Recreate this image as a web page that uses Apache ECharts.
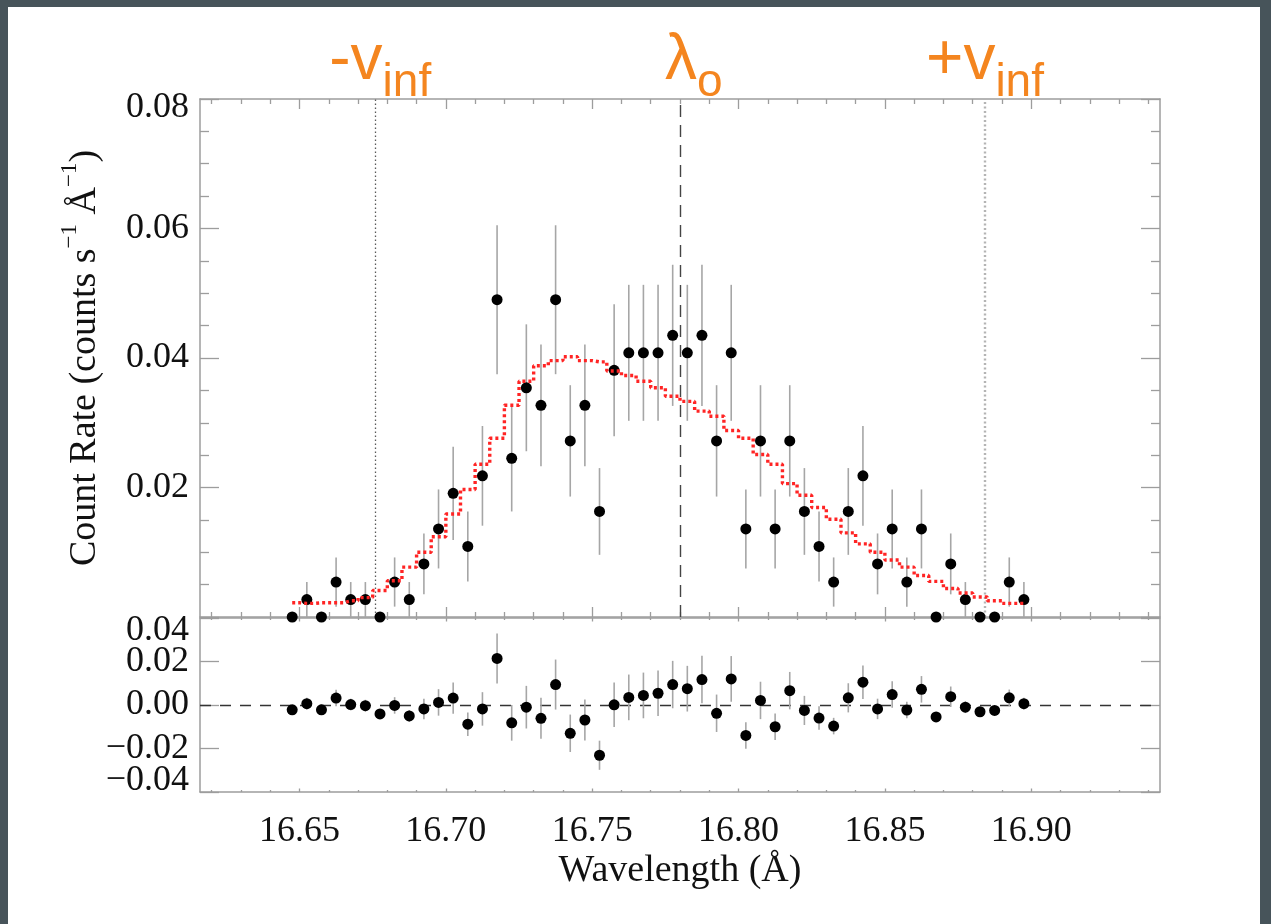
<!DOCTYPE html>
<html>
<head>
<meta charset="utf-8">
<title>Fe XVII 16.78 Å line profile</title>
<script src="https://cdn.jsdelivr.net/npm/echarts@6.0.0/dist/echarts.min.js"></script>
<style>
  html, body { margin: 0; padding: 0; background: #fff; }
  #frame {
    position: absolute; left: 0; top: 0; width: 1271px; height: 924px;
    box-sizing: border-box; background: #fff;
    border-top: 7px solid #47545a; border-left: 8px solid #47545a; border-right: 11px solid #47545a;
  }
  #chart { width: 1252px; height: 917px; }
</style>
</head>
<body>
<div id="frame"><div id="chart"></div></div>
<script>
// Bin centres (Å)
const wavelength = [
  16.6475, 16.6525, 16.6575, 16.6625, 16.6675, 16.6725, 16.6775, 16.6825, 16.6875, 16.6925,
  16.6975, 16.7025, 16.7075, 16.7125, 16.7175, 16.7225, 16.7275, 16.7325, 16.7375, 16.7425,
  16.7475, 16.7525, 16.7575, 16.7625, 16.7675, 16.7725, 16.7775, 16.7825, 16.7875, 16.7925,
  16.7975, 16.8025, 16.8075, 16.8125, 16.8175, 16.8225, 16.8275, 16.8325, 16.8375, 16.8425,
  16.8475, 16.8525, 16.8575, 16.8625, 16.8675, 16.8725, 16.8775, 16.8825, 16.8875, 16.8925, 16.8975
];
// Observed count rate (counts s^-1 Å^-1)
const countRate = [
  0.0000, 0.0027, 0.0000, 0.0054, 0.0027, 0.0027, 0.0000, 0.0054, 0.0027, 0.0082,
  0.0136, 0.0191, 0.0109, 0.0218, 0.0490, 0.0245, 0.0354, 0.0327, 0.0490, 0.0272,
  0.0327, 0.0163, 0.0381, 0.0408, 0.0408, 0.0408, 0.0435, 0.0408, 0.0435, 0.0272,
  0.0408, 0.0136, 0.0272, 0.0136, 0.0272, 0.0163, 0.0109, 0.0054, 0.0163, 0.0218,
  0.0082, 0.0136, 0.0054, 0.0136, 0.0000, 0.0082, 0.0027, 0.0000, 0.0000, 0.0054, 0.0027
];
// 1-sigma uncertainty of each bin
const rateError = [
  0.0000, 0.0027, 0.0000, 0.0038, 0.0027, 0.0027, 0.0000, 0.0038, 0.0027, 0.0047,
  0.0061, 0.0072, 0.0054, 0.0077, 0.0115, 0.0082, 0.0098, 0.0094, 0.0115, 0.0086,
  0.0094, 0.0067, 0.0102, 0.0105, 0.0105, 0.0105, 0.0109, 0.0105, 0.0109, 0.0086,
  0.0105, 0.0061, 0.0086, 0.0061, 0.0086, 0.0067, 0.0054, 0.0038, 0.0067, 0.0077,
  0.0047, 0.0061, 0.0038, 0.0061, 0.0000, 0.0047, 0.0027, 0.0000, 0.0000, 0.0038, 0.0027
];
// Best-fit wind profile model
const modelRate = [
  0.0022, 0.0021, 0.0022, 0.0022, 0.0025, 0.0030, 0.0041, 0.0056, 0.0077, 0.0100,
  0.0124, 0.0159, 0.0197, 0.0236, 0.0276, 0.0327, 0.0364, 0.0388, 0.0396, 0.0402,
  0.0396, 0.0394, 0.0380, 0.0373, 0.0364, 0.0354, 0.0341, 0.0333, 0.0318, 0.0310,
  0.0288, 0.0276, 0.0251, 0.0236, 0.0206, 0.0188, 0.0169, 0.0151, 0.0130, 0.0113,
  0.0100, 0.0088, 0.0077, 0.0064, 0.0055, 0.0044, 0.0037, 0.0031, 0.0025, 0.0021, 0.0021
];
// Data minus model
const residual = [
  -0.0022, 0.0006, -0.0022, 0.0032, 0.0002, -0.0003, -0.0041, -0.0002, -0.0050, -0.0018,
  0.0012, 0.0032, -0.0088, -0.0018, 0.0214, -0.0082, -0.0010, -0.0061, 0.0094, -0.0130,
  -0.0069, -0.0231, 0.0001, 0.0035, 0.0044, 0.0054, 0.0094, 0.0075, 0.0117, -0.0038,
  0.0120, -0.0140, 0.0021, -0.0100, 0.0066, -0.0025, -0.0060, -0.0097, 0.0033, 0.0105,
  -0.0018, 0.0048, -0.0023, 0.0072, -0.0055, 0.0038, -0.0010, -0.0031, -0.0025, 0.0033, 0.0006
];

// Rest wavelength and terminal-velocity edges (Å)
const restWavelength = 16.78;
const blueEdge = 16.676;
const redEdge = 16.884;

// Axis ranges and ticks
const wlRange = [16.616, 16.944];
const wlMajorTicks = [16.65, 16.70, 16.75, 16.80, 16.85, 16.90];
const wlMinorTicks = [16.62, 16.63, 16.64, 16.66, 16.67, 16.68, 16.69, 16.71, 16.72, 16.73, 16.74,
  16.76, 16.77, 16.78, 16.79, 16.81, 16.82, 16.83, 16.84, 16.86, 16.87, 16.88, 16.89,
  16.91, 16.92, 16.93, 16.94];
const rateRange = [0, 0.08];
const rateLabels = [0.02, 0.04, 0.06, 0.08];
const residRange = [-0.04, 0.04];
const residInnerLabels = [-0.02, 0, 0.02];
const residEdgeLabels = [-0.04, 0.04];

// Annotation text over the three reference lines: [wavelength, main text, subscript]
const edgeLabels = [
  [blueEdge, '-v', 'inf'],
  [restWavelength, 'λ', 'o'],
  [redEdge, '+v', 'inf']
];

const serif = 'Liberation Serif, Times New Roman, serif';
const sans = 'Liberation Sans, Arial, sans-serif';
const frameGray = '#9d9d9d';
const orange = '#f4851f';

function xAxisDef(gridIndex, position, ticks, len, withLine, extra) {
  const ax = {
    type: 'value', gridIndex: gridIndex, position: position,
    min: wlRange[0], max: wlRange[1],
    axisLine: { show: withLine, onZero: false, lineStyle: { color: frameGray, width: 1.5 } },
    axisTick: { show: true, inside: true, length: len, customValues: ticks,
                lineStyle: { color: frameGray, width: 1.3 } },
    axisLabel: { show: false },
    splitLine: { show: false }
  };
  return Object.assign(ax, extra || {});
}

function yAxisDef(gridIndex, position, range, withMinor, extra) {
  const ax = {
    type: 'value', gridIndex: gridIndex, position: position,
    min: range[0], max: range[1], interval: 0.02,
    axisLine: { show: true, onZero: false, lineStyle: { color: frameGray, width: 1.5 } },
    axisTick: { show: true, inside: true, length: 19, lineStyle: { color: frameGray, width: 1.3 } },
    minorTick: { show: withMinor, splitNumber: 4, length: 9, lineStyle: { color: frameGray, width: 1.3 } },
    axisLabel: { show: false },
    splitLine: { show: false }
  };
  return Object.assign(ax, extra || {});
}

const labelFont = { fontFamily: serif, fontSize: 36, color: '#111' };
const titleFont = { fontFamily: serif, fontSize: 38, color: '#111' };
const fmtSigned = v => (v < -1e-9 ? '\u2212' : '') + Math.abs(v).toFixed(2);

function errorBars(params, api) {
  const x = api.value(0), y = api.value(1), e = api.value(2);
  if (!(e > 0)) return { type: 'group', children: [] };
  const lo = api.coord([x, y - e]);
  const hi = api.coord([x, y + e]);
  return {
    type: 'line',
    shape: { x1: lo[0], y1: lo[1], x2: hi[0], y2: hi[1] },
    style: { stroke: '#a6a6a6', lineWidth: 1.6 }
  };
}

const mainPoints = wavelength.map((w, i) => [w, countRate[i]]);
const mainBars = wavelength.map((w, i) => [w, countRate[i], rateError[i]]);
const modelLine = wavelength.map((w, i) => [w, modelRate[i]]);
const residPoints = wavelength.map((w, i) => [w, residual[i]]);
const residBars = wavelength.map((w, i) => [w, residual[i], rateError[i]]);

const chart = echarts.init(document.getElementById('chart'));
chart.setOption({
  animation: false,
  backgroundColor: '#fff',
  grid: [
    { left: 192, top: 92, width: 960, height: 518 },
    { left: 192, top: 611, width: 960, height: 174 }
  ],
  xAxis: [
    xAxisDef(0, 'bottom', wlMajorTicks, 10, true),
    xAxisDef(0, 'bottom', wlMinorTicks, 5, false),
    xAxisDef(0, 'top', wlMajorTicks, 10, true),
    xAxisDef(0, 'top', wlMinorTicks, 5, false),
    xAxisDef(1, 'bottom', wlMajorTicks, 3.5, true, {
      axisLabel: { show: true, customValues: wlMajorTicks, margin: 22,
                   formatter: v => v.toFixed(2), ...labelFont },
      name: 'Wavelength (Å)', nameLocation: 'middle', nameGap: 60,
      nameTextStyle: titleFont
    }),
    xAxisDef(1, 'bottom', wlMinorTicks, 2, false),
    xAxisDef(1, 'top', wlMajorTicks, 3.5, true),
    xAxisDef(1, 'top', wlMinorTicks, 2, false)
  ],
  yAxis: [
    yAxisDef(0, 'left', rateRange, true, {
      axisLabel: {
        show: true, margin: 11, showMinLabel: true, showMaxLabel: true, customValues: rateLabels,
        ...labelFont, lineHeight: 20,
        formatter: v => Math.abs(v - rateRange[1]) < 1e-9 ? '{top|' + v.toFixed(2) + '}' : v.toFixed(2),
        rich: { top: { fontFamily: serif, fontSize: 36, color: '#111', lineHeight: 20, padding: [18, 0, 0, 0] } }
      },
      name: '{t|Count Rate (counts s}{sup|\u22121}{t| Å}{sup|\u22121}{t|)}',
      nameLocation: 'middle', nameRotate: 90, nameGap: 96,
      nameTextStyle: {
        ...titleFont,
        rich: {
          t: { fontFamily: serif, fontSize: 38, color: '#111', lineHeight: 46, verticalAlign: 'bottom' },
          sup: { fontFamily: serif, fontSize: 23, color: '#111', lineHeight: 30, verticalAlign: 'top' }
        }
      }
    }),
    yAxisDef(0, 'right', rateRange, true),
    yAxisDef(1, 'left', residRange, false, {
      axisLabel: {
        show: true, margin: 11, showMinLabel: true, showMaxLabel: true,
        customValues: residInnerLabels, ...labelFont, formatter: fmtSigned
      }
    }),
    yAxisDef(1, 'right', residRange, false),
    // labels for the two panel-edge values, nudged inward so they clear the frame corners
    yAxisDef(1, 'left', residRange, false, {
      axisLine: { show: false, onZero: false },
      axisTick: { show: false },
      axisLabel: {
        show: true, margin: 11, showMinLabel: true, showMaxLabel: true,
        customValues: residEdgeLabels, ...labelFont, lineHeight: 20,
        formatter: v => (v > 0 ? '{dn|' : '{up|') + fmtSigned(v) + '}',
        rich: {
          dn: { fontFamily: serif, fontSize: 36, color: '#111', lineHeight: 20, padding: [26, 0, 0, 0] },
          up: { fontFamily: serif, fontSize: 36, color: '#111', lineHeight: 20, padding: [0, 0, 22, 0] }
        }
      }
    })
  ],
  series: [
    {
      name: 'rate errors', type: 'custom', xAxisIndex: 0, yAxisIndex: 0, z: 1,
      renderItem: errorBars, encode: { x: 0, y: 1 }, data: mainBars,
      markLine: {
        silent: true, symbol: 'none', z: 1, animation: false, precision: 4,
        label: { show: false },
        data: [
          { xAxis: blueEdge, lineStyle: { color: '#5a5a5a', width: 1.3, type: [1.5, 2.5] } },
          { xAxis: restWavelength, lineStyle: { color: '#444', width: 1.4, type: [12, 8] } },
          { xAxis: redEdge, lineStyle: { color: '#b4b4b4', width: 2.4, type: [2, 2.5] } }
        ]
      }
    },
    {
      name: 'count rate', type: 'scatter', xAxisIndex: 0, yAxisIndex: 0, z: 3,
      symbol: 'circle', symbolSize: 11, itemStyle: { color: '#000', opacity: 1 }, data: mainPoints
    },
    {
      name: 'model', type: 'line', xAxisIndex: 0, yAxisIndex: 0, z: 4,
      step: 'middle', symbol: 'none', data: modelLine,
      lineStyle: { color: '#ff2424', width: 3.4, type: [3, 3] }
    },
    {
      name: 'residual errors', type: 'custom', xAxisIndex: 4, yAxisIndex: 2, z: 1,
      renderItem: errorBars, encode: { x: 0, y: 1 }, data: residBars,
      markLine: {
        silent: true, symbol: 'none', z: 1, animation: false, precision: 4, label: { show: false },
        data: [{ yAxis: 0, lineStyle: { color: '#333', width: 1.4, type: [11, 9] } }]
      }
    },
    {
      name: 'residual', type: 'scatter', xAxisIndex: 4, yAxisIndex: 2, z: 3,
      symbol: 'circle', symbolSize: 11, itemStyle: { color: '#000', opacity: 1 }, data: residPoints
    }
  ]
});

// Orange annotations above the plot, placed from the axis scale:
// main glyph ends at the joint, subscript starts there and sits lower.
const jointShift = [7, 17, 11];
const plotTop = chart.convertToPixel({ yAxisIndex: 0 }, rateRange[1]);
const annotations = [];
edgeLabels.forEach((item, i) => {
  const joint = chart.convertToPixel({ xAxisIndex: 0 }, item[0]) + jointShift[i];
  annotations.push({
    type: 'text', x: joint, y: plotTop - 6, silent: true,
    style: { text: item[1], fill: orange, font: '64px ' + sans, align: 'right', verticalAlign: 'bottom' }
  });
  annotations.push({
    type: 'text', x: joint, y: plotTop + 7, silent: true,
    style: { text: item[2], fill: orange, font: '46px ' + sans, align: 'left', verticalAlign: 'bottom' }
  });
});
chart.setOption({ graphic: annotations });
</script>
</body>
</html>
